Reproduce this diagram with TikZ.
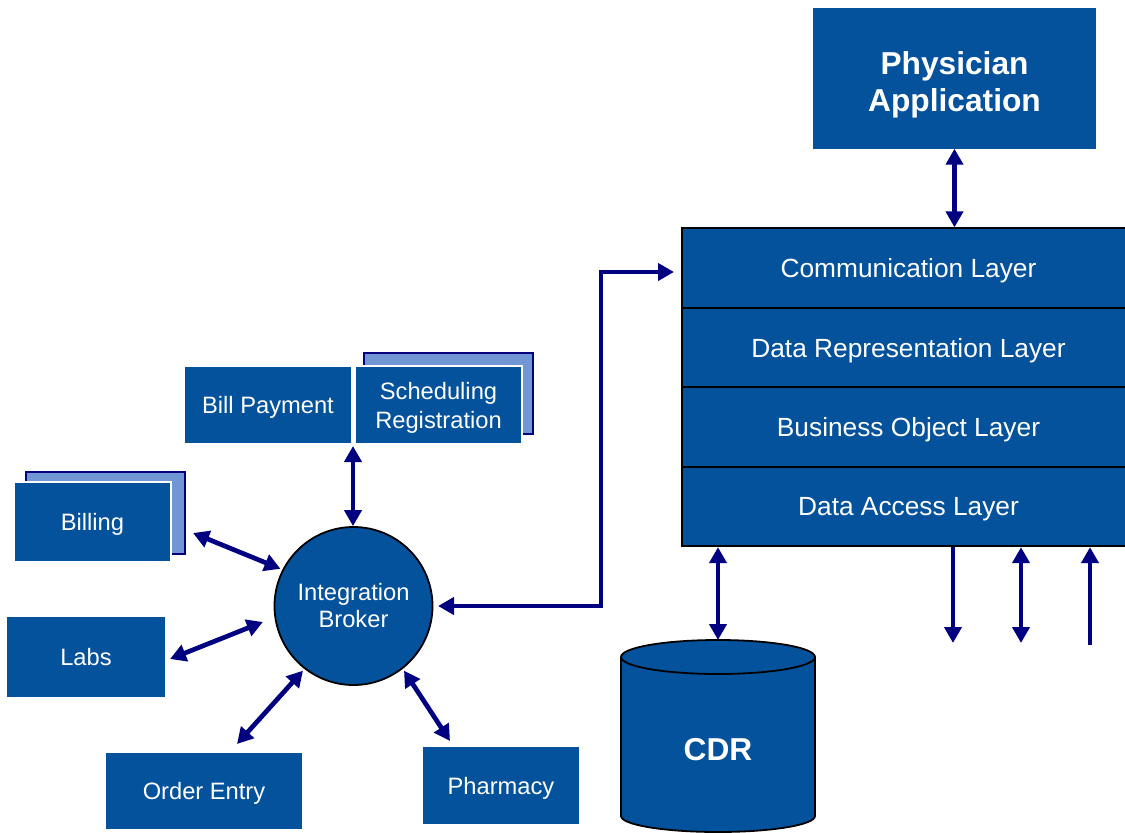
\documentclass[tikz,border=0pt]{standalone}
\usepackage{fontspec}
\setmainfont{Liberation Sans}
\usetikzlibrary{arrows.meta,calc}
\definecolor{boxblue}{RGB}{3,82,155}
\definecolor{shadeblue}{RGB}{112,150,212}
\definecolor{arrnavy}{RGB}{0,0,128}
\begin{document}
\begin{tikzpicture}[x=1pt,y=-1pt,
  box/.style={draw=none,fill=boxblue,text=white,inner sep=0pt,align=center,text depth=0pt,font=\fontsize{23.7}{29}\selectfont},
  fbox/.style={box,draw=white,line width=1.2pt},
  shadowbox/.style={draw=arrnavy,fill=shadeblue,line width=1.5pt,inner sep=0pt},
  layer/.style={draw=black,line width=1.8pt,fill=boxblue,text=white,inner sep=0pt,text depth=0pt,minimum width=453pt,font=\fontsize{26.3}{30}\selectfont},
  dbl/.style={draw=arrnavy,line width=4.7pt,{Triangle[length=16pt,width=17pt]}-{Triangle[length=16pt,width=17pt]}},
  fwd/.style={draw=arrnavy,line width=4.7pt,-{Triangle[length=16pt,width=17pt]}},
  bk/.style={draw=arrnavy,line width=4.7pt,{Triangle[length=16pt,width=17pt]}-}]
\useasboundingbox (0,0) rectangle (1125,833);
\fill[white] (0,0) rectangle (1125,833);

% Physician application
\node[box,minimum width=283pt,minimum height=141pt] (phys) at (954.5,78) {};
\node[text=white,align=center,inner sep=0pt,font=\bfseries\fontsize{31.7}{37}\selectfont] (physT) at (954.5,85) {Physician\\Application};

% layer stack
\node[layer,minimum height=79.5pt] (comm) at (908.5,268) {Communication Layer};
\node[layer,minimum height=79.5pt] (rep) at (908.5,347.5) {Data Representation Layer};
\node[layer,minimum height=79.5pt] (bol) at (908.5,427) {Business Object Layer};
\node[layer,minimum height=79.5pt] (dal) at (908.5,506.5) {Data Access Layer};

% CDR cylinder
\path[draw=black,line width=1.8pt,fill=boxblue] (621,657) -- (621,816) arc[start angle=180,end angle=0,x radius=97,y radius=16] -- (815,657) arc[start angle=0,end angle=-180,x radius=97,y radius=17] -- cycle;
\draw[black,line width=1.8pt] (621,657) arc[start angle=180,end angle=0,x radius=97,y radius=17];
\node[text=white,font=\bfseries\fontsize{31.7}{38}\selectfont] (cdr) at (718,750) {CDR};
\coordinate (cdrtop) at (718,640);

% Integration broker
\node[circle,draw=black,line width=1.8pt,fill=boxblue,text=white,minimum size=158pt,inner sep=0pt,align=center,font=\fontsize{23.7}{27}\selectfont] (broker) at (353.5,606) {Integration\\Broker};

% Bill payment / Scheduling
\node[box,minimum width=166pt,minimum height=76pt] (bill) at (268,405) {Bill Payment};
\node[shadowbox,minimum width=169pt,minimum height=81pt] (schedsh) at (448.5,393.5) {};
\node[fbox,minimum width=167pt,minimum height=78pt] (sched) at (438.5,405) {Scheduling\\Registration};

% Billing
\node[shadowbox,minimum width=159pt,minimum height=82pt] (billingsh) at (105.5,513) {};
\node[fbox,minimum width=157pt,minimum height=80pt] (billing) at (92.5,522) {Billing};

% Labs, Order entry, Pharmacy
\node[box,minimum width=158pt,minimum height=80pt] (labs) at (86,657) {Labs};
\node[box,minimum width=196pt,minimum height=76pt] (order) at (204,791) {Order Entry};
\node[box,minimum width=156pt,minimum height=77pt] (pharm) at (501,785.5) {Pharmacy};

% connector end points
\coordinate (schedA) at (353,446);
\coordinate (billingA) at (193,533);
\coordinate (labsA) at (170,659);
\coordinate (orderA) at (237,744);
\coordinate (pharmA) at (450,741);
\coordinate (brokR) at (438,606);
\coordinate (commIn) at (674,272);
\coordinate (cornerX) at (601,0);

% connectors
\draw[dbl] (phys.south) -- (phys.south |- comm.north);
\draw[dbl] (cdrtop |- dal.south) -- (cdrtop);
\draw[dbl] (schedA) -- (schedA |- broker.north);
\draw[dbl] (billingA) -- ($(broker.center)+(207:82)$);
\draw[dbl] (labsA) -- ($(broker.center)+(170:92)$);
\draw[dbl] (orderA) -- ($(broker.center)+(128:82)$);
\draw[dbl] (pharmA) -- ($(broker.center)+(52:82)$);
\draw[dbl] (brokR) -- (cornerX |- brokR) |- (commIn);

% right side arrows
\coordinate (r1) at (953,643);
\coordinate (r2) at (1021,643);
\coordinate (r3) at (1090,645);
\draw[fwd] (r1 |- dal.south) -- (r1);
\draw[dbl] (r2 |- dal.south) -- (r2);
\draw[bk] (r3 |- dal.south) -- (r3);
\end{tikzpicture}
\end{document}
